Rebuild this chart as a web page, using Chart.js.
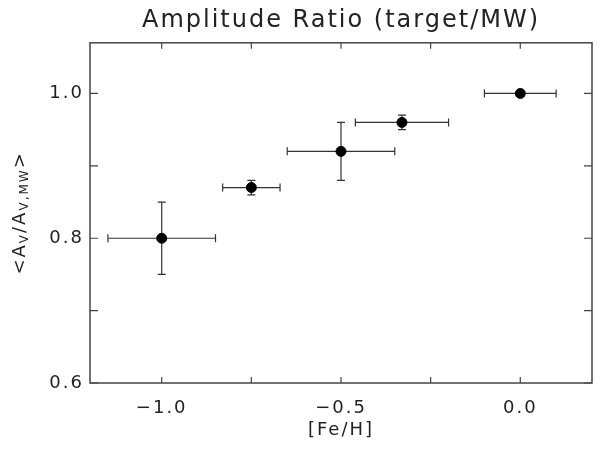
<!DOCTYPE html>
<html>
<head>
<meta charset="utf-8">
<script src="https://cdn.jsdelivr.net/npm/chart.js@4/dist/chart.umd.min.js"></script>
<style>
  html, body { margin: 0; padding: 0; background: #fff; }
  #wrap { width: 603px; height: 449px; }
</style>
</head>
<body>
<div id="wrap"><canvas id="ampChart"></canvas></div>
<script>
// values
const feh      = [-1.0, -0.75, -0.5, -0.33, 0.0];
const ratio    = [0.80, 0.87, 0.92, 0.96, 1.00];
const fehErr   = [0.15, 0.08, 0.15, 0.13, 0.10];
const ratioErr = [0.05, 0.01, 0.04, 0.01, 0.00];

const xLabelTicks = [-1.0, -0.5, 0.0];
const yLabelTicks = [0.6, 0.8, 1.0];

const FONT = '"DejaVu Sans", sans-serif';
const INK = '#222';
const SPACING = '2px'; // the original vector font is wide, spread letters a bit

function fmt(v) {
  if (Math.abs(v) < 1e-9) return '0.0';
  return v.toFixed(1).replace('-', '\u2212');
}
function isLabelled(v, list) {
  return list.some(t => Math.abs(t - v) < 1e-6);
}

const wideText = {
  id: 'wideText',
  beforeLayout(chart) { chart.ctx.letterSpacing = SPACING; },
  beforeDraw(chart) { chart.ctx.letterSpacing = SPACING; }
};

// error bars, drawn under the points
const errorBars = {
  id: 'errorBars',
  beforeDatasetsDraw(chart) {
    const { ctx, scales: { x, y } } = chart;
    const cap = 4;
    ctx.save();
    ctx.strokeStyle = '#333';
    ctx.lineWidth = 1.2;
    feh.forEach((fx, i) => {
      const px = x.getPixelForValue(fx);
      const py = y.getPixelForValue(ratio[i]);
      ctx.beginPath();
      if (fehErr[i] > 0) {
        const x0 = x.getPixelForValue(fx - fehErr[i]);
        const x1 = x.getPixelForValue(fx + fehErr[i]);
        ctx.moveTo(x0, py); ctx.lineTo(x1, py);
        ctx.moveTo(x0, py - cap); ctx.lineTo(x0, py + cap);
        ctx.moveTo(x1, py - cap); ctx.lineTo(x1, py + cap);
      }
      if (ratioErr[i] > 0) {
        const y0 = y.getPixelForValue(ratio[i] - ratioErr[i]);
        const y1 = y.getPixelForValue(ratio[i] + ratioErr[i]);
        ctx.moveTo(px, y0); ctx.lineTo(px, y1);
        ctx.moveTo(px - cap, y0); ctx.lineTo(px + cap, y0);
        ctx.moveTo(px - cap, y1); ctx.lineTo(px + cap, y1);
      }
      ctx.stroke();
    });
    ctx.restore();
  }
};

// IDL style box with inward ticks on all four sides
const frameTicks = {
  id: 'frameTicks',
  afterDraw(chart) {
    const { ctx, chartArea: a, scales: { x, y } } = chart;
    ctx.save();
    ctx.strokeStyle = '#444';
    ctx.lineWidth = 1.5;
    ctx.strokeRect(a.left, a.top, a.right - a.left, a.bottom - a.top);
    ctx.lineWidth = 1.2;
    ctx.beginPath();
    x.ticks.forEach(t => {
      const px = x.getPixelForValue(t.value);
      ctx.moveTo(px, a.bottom); ctx.lineTo(px, a.bottom - 6);
      ctx.moveTo(px, a.top); ctx.lineTo(px, a.top + 6);
    });
    y.ticks.forEach(t => {
      const py = y.getPixelForValue(t.value);
      ctx.moveTo(a.left, py); ctx.lineTo(a.left + 8, py);
      ctx.moveTo(a.right, py); ctx.lineTo(a.right - 8, py);
    });
    ctx.stroke();

    // y title <A_V/A_V,MW> with subscripts
    const parts = [['<A', 0], ['V', 1], ['/A', 0], ['V,MW', 1], ['>', 0]];
    const big = '18px ' + FONT, small = '12px ' + FONT;
    ctx.letterSpacing = SPACING;
    let total = 0;
    parts.forEach(p => { ctx.font = p[1] ? small : big; total += ctx.measureText(p[0]).width; });
    ctx.translate(20, (a.top + a.bottom) / 2);
    ctx.rotate(-Math.PI / 2);
    ctx.fillStyle = INK;
    ctx.textBaseline = 'middle';
    let cx = -total / 2;
    parts.forEach(p => {
      ctx.font = p[1] ? small : big;
      ctx.fillText(p[0], cx, p[1] ? 5 : 0);
      cx += ctx.measureText(p[0]).width;
    });
    ctx.restore();
  }
};

new Chart(document.getElementById('ampChart'), {
  type: 'scatter',
  data: {
    datasets: [{
      label: 'Amplitude ratio',
      data: feh.map((v, i) => ({ x: v, y: ratio[i] })),
      backgroundColor: '#000',
      borderColor: '#000',
      pointRadius: 5,
      pointHoverRadius: 5
    }]
  },
  options: {
    responsive: true,
    maintainAspectRatio: false,
    animation: false,
    layout: { padding: { left: 0, right: 11, top: 0, bottom: 0 } },
    plugins: {
      legend: { display: false },
      tooltip: { enabled: false },
      title: {
        display: true,
        fullSize: false,
        text: 'Amplitude Ratio (target/MW)',
        color: INK,
        font: { family: FONT, size: 24, weight: 'normal', lineHeight: 1.2 },
        padding: { top: 6, bottom: 8 }
      }
    },
    scales: {
      x: {
        type: 'linear',
        min: -1.2,
        max: 0.2,
        grid: { display: false, drawTicks: false },
        border: { display: false },
        ticks: {
          stepSize: 0.25,
          includeBounds: false,
          autoSkip: false,
          maxRotation: 0,
          padding: 15,
          color: INK,
          font: { family: FONT, size: 18 },
          callback: v => isLabelled(v, xLabelTicks) ? fmt(v) : ''
        },
        title: {
          display: true,
          text: '[Fe/H]',
          color: INK,
          font: { family: FONT, size: 18 },
          padding: { top: 0, bottom: 8 }
        },
        afterFit: s => { s.height = 66; }
      },
      y: {
        type: 'linear',
        min: 0.6,
        max: 1.07,
        grid: { display: false, drawTicks: false },
        border: { display: false },
        ticks: {
          stepSize: 0.1,
          includeBounds: false,
          autoSkip: false,
          padding: 6,
          color: INK,
          font: { family: FONT, size: 18 },
          callback: v => isLabelled(v, yLabelTicks) ? fmt(v) : ''
        },
        afterFit: s => { s.width = 90; }
      }
    }
  },
  plugins: [wideText, errorBars, frameTicks]
});
</script>
</body>
</html>
